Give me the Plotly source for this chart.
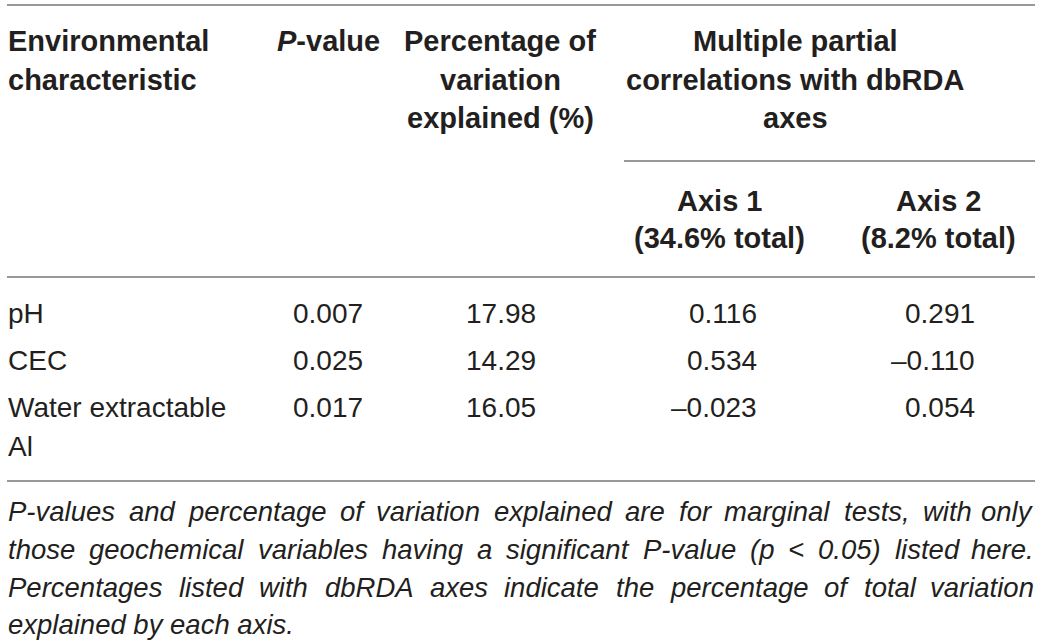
"""
Table of dbRDA marginal tests, redrawn with plotly annotations on a hidden
pixel-scaled axis.
"""

import plotly.graph_objects as go

# --------------------------------------------------------------------------- #
# Table data                                                                   #
# --------------------------------------------------------------------------- #

characteristics = [["pH"], ["CEC"], ["Water extractable", "Al"]]
p_values = [0.007, 0.025, 0.017]
pct_explained = [17.98, 14.29, 16.05]
axis1_corr = [0.116, 0.534, -0.023]
axis2_corr = [0.291, -0.110, 0.054]

header_env = ["Environmental", "characteristic"]
header_p = ["<i>P</i>-value"]
header_pct = ["Percentage of", "variation", "explained (%)"]
header_corr = ["Multiple partial", "correlations with dbRDA", "axes"]
header_axis1 = ["Axis 1", "(34.6% total)"]
header_axis2 = ["Axis 2", "(8.2% total)"]

footnote_lines = [
    "P-values and percentage of variation explained are for marginal tests, with only",
    "those geochemical variables having a significant P-value (p < 0.05) listed here.",
    "Percentages listed with dbRDA axes indicate the percentage of total variation",
    "explained by each axis.",
]

# --------------------------------------------------------------------------- #
# Layout constants (pixels)                                                    #
# --------------------------------------------------------------------------- #

W, H = 1041, 642
LEFT, RIGHT = 7, 1035
TEXT = "#231f20"
RULE = "#767676"
FONT = "Liberation Sans"

HEAD_Y = [41, 80, 118]
SUB_Y = [201, 238]
ROW_Y = [313, 360, 407]
WRAP = 39
NOTE_Y = [511, 549, 587, 624]

HS, DS, NS = 29, 28, 27.5

# Arial / Liberation Sans advance widths (per 1000 em), used to justify the note
_ADV = dict(zip("abcdefghijklmnopqrstuvwxyz",
                [556, 556, 500, 556, 556, 278, 556, 556, 222, 222, 500, 222, 833,
                 556, 556, 556, 556, 333, 500, 278, 556, 500, 722, 500, 500, 500]))
_ADV.update(dict(zip("ABCDEFGHIJKLMNOPQRSTUVWXYZ",
                     [667, 667, 722, 722, 667, 611, 778, 722, 278, 500, 667, 556, 833,
                      722, 778, 667, 778, 722, 667, 611, 722, 667, 944, 667, 667, 611])))
_ADV.update({c: 556 for c in "0123456789"})
_ADV.update({" ": 278, ",": 278, ".": 278, "-": 333, "(": 333, ")": 333, "<": 584})


def text_width(s, size):
    return sum(_ADV.get(c, 556) for c in s) * size / 1000


def fmt(v, nd):
    s = f"{abs(v):.{nd}f}"
    return ("\u2013" + s) if v < 0 else s


fig = go.Figure()
fig.add_trace(go.Scatter(x=[0, W], y=[0, H], mode="markers",
                         marker=dict(opacity=0), hoverinfo="skip",
                         showlegend=False))


def put(text, x, y, anchor, size, bold=False, italic=False):
    text = text.replace("<", "&lt;") if "<i>" not in text else text
    if bold:
        text = f"<b>{text}</b>"
    if italic:
        text = f"<i>{text}</i>"
    fig.add_annotation(
        x=x, y=y, xref="x", yref="y", text=text, showarrow=False,
        xanchor=anchor, yanchor="middle", align=anchor, borderpad=0,
        font=dict(family=FONT, size=size, color=TEXT),
    )


# header
for i, line in enumerate(header_env):
    put(line, LEFT, HEAD_Y[i], "left", HS, bold=True)
for i, line in enumerate(header_p):
    put(line, 328, HEAD_Y[i], "center", HS, bold=True)
for i, line in enumerate(header_pct):
    put(line, 500, HEAD_Y[i], "center", HS, bold=True)
for i, line in enumerate(header_corr):
    put(line, 795, HEAD_Y[i], "center", HS, bold=True)
for i, line in enumerate(header_axis1):
    put(line, 719, SUB_Y[i], "center", HS, bold=True)
for i, line in enumerate(header_axis2):
    put(line, 938, SUB_Y[i], "center", HS, bold=True)

# body
for r, y in enumerate(ROW_Y):
    for k, line in enumerate(characteristics[r]):
        put(line, LEFT, y + k * WRAP, "left", DS)
    put(fmt(p_values[r], 3), 328, y, "center", DS)
    put(fmt(pct_explained[r], 2), 501, y, "center", DS)
    put(fmt(axis1_corr[r], 3), 758, y, "right", DS)
    put(fmt(axis2_corr[r], 3), 976, y, "right", DS)

# footnote: justified lines, last line left aligned
for i, line in enumerate(footnote_lines):
    if i == len(footnote_lines) - 1:
        put(line, LEFT, NOTE_Y[i], "left", NS, italic=True)
        continue
    words = line.split(" ")
    widths = [text_width(w, NS) for w in words]
    gap = (RIGHT - LEFT - sum(widths)) / (len(words) - 1)
    x = LEFT
    for j, (w, wd) in enumerate(zip(words, widths)):
        if j == len(words) - 1:
            put(w, RIGHT, NOTE_Y[i], "right", NS, italic=True)
        else:
            put(w, x, NOTE_Y[i], "left", NS, italic=True)
        x += wd + gap

# horizontal rules
for x0, y0 in [(LEFT, 5), (624, 161), (LEFT, 277), (LEFT, 481)]:
    fig.add_shape(type="line", xref="x", yref="y", x0=x0, x1=RIGHT,
                  y0=y0, y1=y0, line=dict(color=RULE, width=1.3))

fig.update_layout(
    width=W, height=H,
    margin=dict(l=0, r=0, t=0, b=0),
    paper_bgcolor="white", plot_bgcolor="white",
    xaxis=dict(range=[0, W], visible=False, fixedrange=True),
    yaxis=dict(range=[H, 0], visible=False, fixedrange=True),
    showlegend=False,
)

fig.write_html("out.html", config=dict(displayModeBar=False),
               post_script="document.body.style.margin='0';")
